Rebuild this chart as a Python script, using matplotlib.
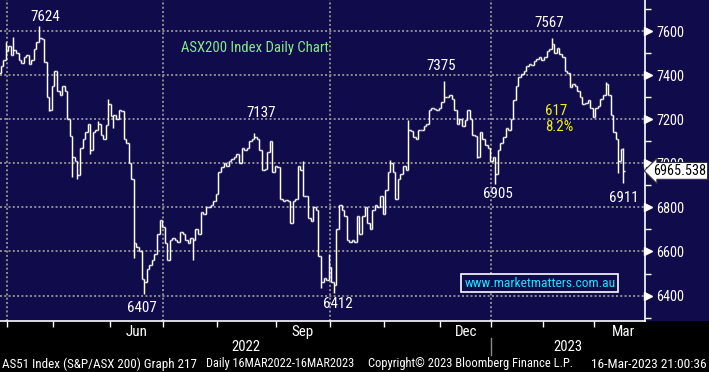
import numpy as np
import pandas as pd
import matplotlib
matplotlib.use("Agg")
import matplotlib.pyplot as plt
from matplotlib.collections import LineCollection
from matplotlib import font_manager

# =========================
# 1. Data (ASX200 daily)
# =========================
holidays = ['2022-04-15', '2022-04-18', '2022-04-25', '2022-06-13', '2022-09-22',
            '2022-12-26', '2022-12-27', '2023-01-02', '2023-01-26']

closes = [
    7175, 7250, 7296, 7338, 7361, 7407, 7371, 7406, 7410, 7440,
    7470, 7510, 7530, 7490, 7515, 7500, 7470, 7455, 7480, 7490,
    7450, 7470, 7520, 7550, 7570, 7565, 7460, 7300, 7240, 7350,
    7420, 7330, 7310, 7350, 7330, 7200, 7125, 7030, 7010, 6945,
    7070, 7110, 7140, 7180, 7060, 7140, 7150, 7180, 7130, 7110,
    7175, 7270, 7215, 7220, 7200, 7240, 7235, 7110, 7090, 7000,
    6930, 6640, 6620, 6600, 6475, 6460, 6520, 6540, 6560, 6590,
    6680, 6745, 6710, 6640, 6560, 6650, 6660, 6650, 6645, 6690,
    6680, 6650, 6640, 6660, 6650, 6700, 6680, 6780, 6770, 6800,
    6800, 6810, 6830, 6860, 6960, 6985, 7000, 6990, 7010, 7020,
    7030, 7040, 7000, 7070, 7060, 7070, 7100, 7110, 7120, 7110,
    7060, 6970, 6975, 7050, 7100, 6960, 6990, 6985, 6840, 6830,
    6835, 6830, 6730, 6830, 6840, 6990, 6970, 6850, 6850, 6750,
    6740, 6800, 6790, 6580, 6460, 6480, 6470, 6530, 6460, 6450,
    6700, 6810, 6790, 6760, 6650, 6645, 6650, 6645, 6760, 6680,
    6760, 6800, 6730, 6700, 6790, 6810, 6800, 6850, 6770, 6880,
    6960, 7000, 6960, 6840, 6930, 6950, 6990, 6970, 7150, 7145,
    7120, 7110, 7150, 7150, 7170, 7180, 7240, 7250, 7245, 7240,
    7250, 7280, 7300, 7300, 7310, 7290, 7240, 7180, 7200, 7170,
    7195, 7240, 7200, 7130, 7125, 7030, 7140, 7110, 7085, 7070,
    7010, 7030, 6950, 7060, 7090, 7120, 7160, 7150, 7200, 7285,
    7350, 7390, 7405, 7420, 7440, 7450, 7445, 7465, 7475, 7480,
    7470, 7480, 7510, 7520, 7540, 7500, 7525, 7495, 7480, 7420,
    7410, 7345, 7360, 7350, 7330, 7300, 7270, 7275, 7285, 7250,
    7210, 7250, 7260, 7290, 7310, 7360, 7310, 7220, 7140, 7110,
    7010, 7065, 6965.538,
]

# intraday extremes visible beyond the open/close steps
high_days = [11, 14, 24, 47, 51, 108, 127, 137, 161, 168, 182, 224, 245, 250, 252]
high_vals = [7551, 7575, 7624, 7190, 7290, 7137, 7010, 6590, 7015, 7196, 7375, 7567, 7370, 7068, 7068]
low_days = [28, 37, 39, 44, 53, 61, 65, 84, 134, 139, 195, 202, 250, 252]
low_vals = [7235, 6940, 6930, 7040, 7160, 6570, 6407, 6560, 6433, 6412, 7023, 6905, 6955, 6911]

# labels on the chart: (text, bar index, level)
point_labels = [('7624', 26.3, 7663), ('7137', 110.6, 7228), ('7375', 180.8, 7441),
                ('7567', 223.0, 7636), ('6407', 64.2, 6344), ('6412', 140.6, 6362),
                ('6905', 203.1, 6861), ('6911', 252.0, 6843)]

last_price = 6965.538

footer = [('AS51 Index (S&P/ASX 200) Graph 217', 2, 195),
          ('Daily 16MAR2022-16MAR2023', 206, 148),
          ('Copyright\u00a9 2023 Bloomberg Finance L.P.', 368, 206),
          ('16-Mar-2023 21:00:36', 591, 116)]

# =========================
# 2. Trading calendar
# =========================
hol = pd.to_datetime(holidays)
cal = pd.bdate_range('2022-03-16', '2023-04-03')
cal = cal[~cal.isin(hol)]

n = len(closes)
idx = np.arange(n)
closes = np.array(closes, dtype=float)
opens = np.r_[closes[0], closes[:-1]]
highs = np.maximum(opens, closes)
lows = np.minimum(opens, closes)
for d, v in zip(high_days, high_vals):
    highs[d] = max(highs[d], v)
for d, v in zip(low_days, low_vals):
    lows[d] = min(lows[d], v)

# month starts (tick between bars)
months = cal.to_period('M')
month_start = [i for i in range(1, len(cal)) if months[i] != months[i - 1]]
month_start_t = [i - 0.5 for i in month_start]
month_names = [cal[i].strftime('%b') for i in month_start]

# =========================
# 3. Fonts / colours
# =========================
names = {f.name for f in font_manager.fontManager.ttflist}
narrow = [f for f in ('Liberation Sans Narrow', 'Roboto Condensed', 'DejaVu Sans Condensed')
          if f in names]
FONT = narrow[0] if narrow else 'Liberation Sans'
plt.rcParams['font.family'] = [FONT, 'DejaVu Sans']
FS = 10.5 if narrow else 9.2

NAVY = '#100c4c'
GRID = '#8e8e8e'
W, H = 709, 372
PLOT_R, PLOT_B = 645, 321
X0, X1 = 8.77, 260.4

# =========================
# 4. Figure
# =========================
fig = plt.figure(figsize=(W / 100, H / 100), dpi=100, facecolor='black')
fig.patches.append(plt.Rectangle((0, 1 - PLOT_B / H), 1, PLOT_B / H, transform=fig.transFigure,
                                 facecolor=NAVY, edgecolor='none', zorder=-5))
ax = fig.add_axes([0, 1 - PLOT_B / H, PLOT_R / W, PLOT_B / H])
ax.set_facecolor(NAVY)

ax.set_xlim(X0, X1)
ax.set_ylim(6284.8, 7740.6)
renderer = fig.canvas.get_renderer()

def fit_width(t_obj, w_px):
    w_now = t_obj.get_window_extent(renderer).width
    t_obj.set_fontsize(t_obj.get_fontsize() * w_px / w_now)

# grid
for lvl in range(6400, 7601, 200):
    ax.axhline(lvl, color=GRID, lw=1.4, ls=(0, (1, 1.2)), zorder=1)
for t, m in zip(month_start_t, month_names):
    if m in ('Apr', 'Jul', 'Oct', 'Jan'):
        ax.axvline(t, color=GRID, lw=1.4, ls=(0, (1, 1.2)), zorder=1)

# OHLC bars
segs = []
for i in idx:
    segs.append([(i, lows[i]), (i, highs[i])])
    segs.append([(i - 0.5, opens[i]), (i, opens[i])])
    segs.append([(i, closes[i]), (i + 0.5, closes[i])])
ax.add_collection(LineCollection(segs, colors='white', linewidths=1.05, zorder=3))

# spines and ticks
for s in ('top', 'left'):
    ax.spines[s].set_visible(False)
for s in ('right', 'bottom'):
    ax.spines[s].set_color('white')
    ax.spines[s].set_linewidth(1.2)

ax.yaxis.tick_right()
ax.set_yticks(range(6400, 7601, 200))
ax.set_yticks(range(6300, 7800, 200), minor=True)
ax.tick_params(axis='y', which='major', length=0, pad=8, labelsize=FS - 0.2, labelcolor='white')
ax.tick_params(axis='y', which='minor', length=4, width=1, color='white', direction='out')
ax.plot(np.full(7, 1.0045), range(6400, 7601, 200), ls='none', marker='>', ms=5.5,
        color='white', transform=ax.get_yaxis_transform(), clip_on=False, zorder=5)

ax.set_xticks([t for t in month_start_t if t < X1])
ax.set_xticklabels([])
ax.tick_params(axis='x', which='major', length=4, width=1, color='white', direction='out')

xt = ax.get_xaxis_transform()
def ya(ypx):
    return (PLOT_B - ypx) / PLOT_B

for k, (t, m) in enumerate(zip(month_start_t, month_names)):
    if m in ('Jun', 'Sep', 'Dec', 'Mar') and k + 1 < len(month_start_t):
        centre = (t + month_start_t[k + 1]) / 2
        ax.text(centre, ya(332), m, transform=xt, ha='center', va='center',
                color='white', fontsize=FS + 0.3, clip_on=False)

t_jan = [t for t, m in zip(month_start_t, month_names) if m == 'Jan'][0]
ax.text((X0 + t_jan) / 2, ya(347), '2022', transform=xt, ha='center', va='center',
        color='white', fontsize=FS)
ax.text((t_jan + X1) / 2, ya(347), '2023', transform=xt, ha='center', va='center',
        color='white', fontsize=FS)
ax.plot([t_jan, t_jan], [ya(338), ya(355)], transform=xt, color='#8a8a8a', lw=1, clip_on=False)

# =========================
# 5. Annotations
# =========================
for txt, t, v in point_labels:
    ax.text(t, v, txt, ha='center', va='center', color='white', fontsize=FS + 0.3, zorder=6)

title = ax.text(108.1, 7523, 'ASX200 Index Daily Chart', ha='center', va='center',
                color='#86e886', fontsize=FS, zorder=6)
fit_width(title, 149)
ax.text(221.4, 7237, '617', ha='left', va='center', color='#f0f020', fontsize=FS + 0.3, zorder=6)
ax.text(221.4, 7165, '8.2%', ha='left', va='center', color='#f0f020', fontsize=FS + 0.3, zorder=6)
site = ax.text(219.4, 6457, 'www.marketmatters.com.au', ha='center', va='center', color='#19e3ff',
               fontsize=FS, zorder=6,
               bbox=dict(boxstyle='square,pad=0.22', facecolor=NAVY, edgecolor='white', linewidth=1.2))
fit_width(site, 152)

ax.text(1.0125, last_price, f'{last_price:.3f}', transform=ax.get_yaxis_transform(),
        ha='left', va='center', color='black', fontsize=FS - 0.2, zorder=7, clip_on=False,
        bbox=dict(boxstyle='larrow,pad=0.1', facecolor='white', edgecolor='#333333', linewidth=0.8))

# footer, each piece fitted to its width in the reference
foot_y = 1 - 364 / H
for txt, x_px, w_px in footer:
    t_obj = fig.text(x_px / W, foot_y, txt, color='white', fontsize=9, ha='left', va='center')
    fit_width(t_obj, w_px)

fig.savefig('out.png', dpi=100, facecolor=fig.get_facecolor())
plt.close(fig)
